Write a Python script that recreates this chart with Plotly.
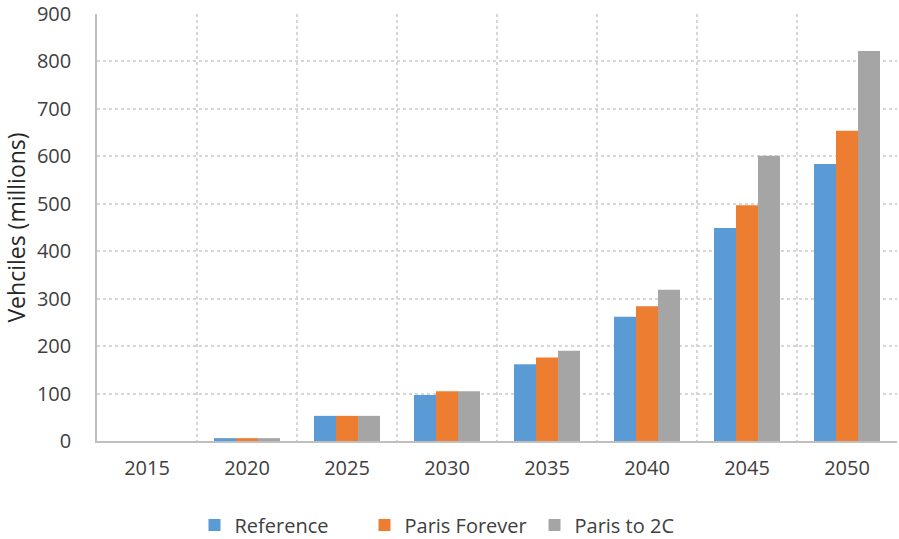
import plotly.graph_objects as go

years = ["2015", "2020", "2025", "2030", "2035", "2040", "2045", "2050"]
reference = [0, 6, 53, 97, 162, 262, 449, 584]
paris_forever = [0, 6, 53, 105, 176, 284, 497, 654]
paris_to_2c = [0, 6, 53, 105, 190, 319, 601, 822]

series = [
    ("Reference", reference, "#5B9BD5"),
    ("Paris Forever", paris_forever, "#ED7D31"),
    ("Paris to 2C", paris_to_2c, "#A5A5A5"),
]

font_family = "Open Sans, Liberation Sans, sans-serif"
text_color = "#404040"

fig = go.Figure()
for name, vals, color in series:
    fig.add_trace(go.Bar(x=years, y=vals, name=name, marker_color=color,
                         marker_line_width=0))

fig.update_layout(
    width=899, height=539,
    margin=dict(l=97, r=2, t=14, b=98, autoexpand=False),
    paper_bgcolor="white", plot_bgcolor="white",
    barmode="group", bargap=0.34, bargroupgap=0,
    font=dict(family=font_family, size=20, color=text_color),
    showlegend=True,
    legend=dict(orientation="h", xref="container", yref="container",
                x=0.5, xanchor="center", y=14 / 539, yanchor="middle",
                font=dict(size=20, color=text_color), itemwidth=30,
                entrywidth=125, traceorder="normal"),
)
fig.update_xaxes(
    type="category", tickson="boundaries", ticks="",
    showgrid=True, gridcolor="#D6D6D6", griddash="dot", gridwidth=1.5,
    showline=True, linecolor="#BFBFBF", linewidth=2,
    tickfont=dict(size=20, color=text_color), ticklabelstandoff=8,
)
fig.update_yaxes(
    range=[0, 900], dtick=100, ticks="",
    showgrid=True, gridcolor="#D6D6D6", griddash="dot", gridwidth=1.5,
    showline=True, linecolor="#BFBFBF", linewidth=1.5,
    zeroline=False,
    tickfont=dict(size=20, color=text_color), ticklabelstandoff=20,
    title=dict(text="Vehciles (millions)", font=dict(size=23, color="#262626"), standoff=6),
)
fig.write_html("out.html")
